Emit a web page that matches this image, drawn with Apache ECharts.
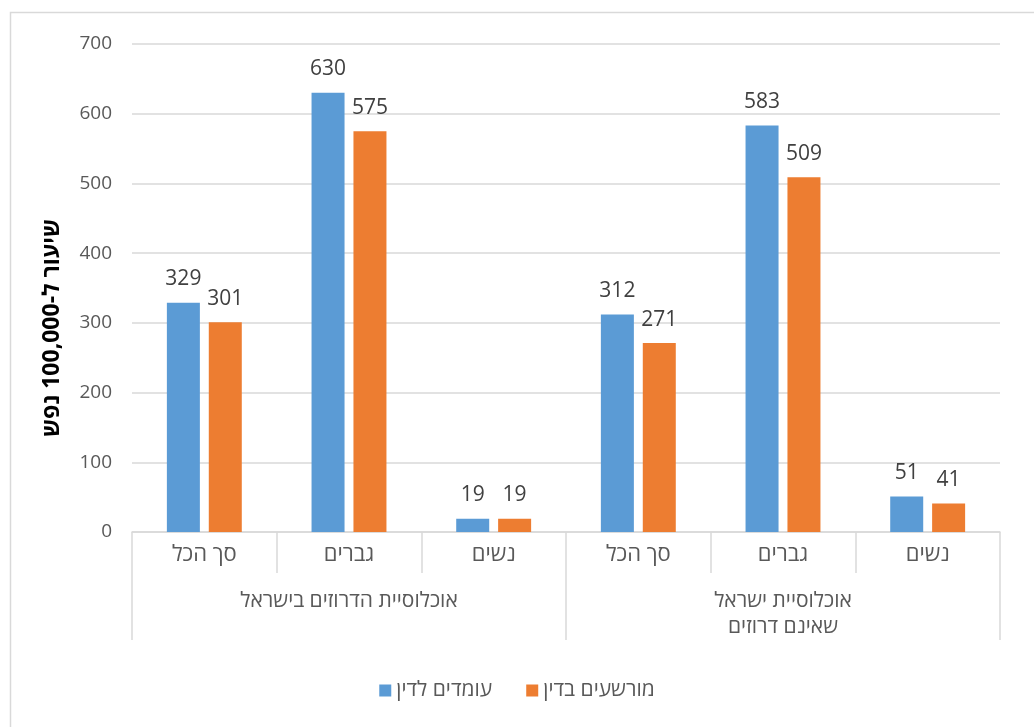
<!DOCTYPE html>
<html>
<head>
<meta charset="utf-8">
<script src="https://cdn.jsdelivr.net/npm/echarts@6/dist/echarts.min.js"></script>
<style>html,body{margin:0;padding:0;background:#fff}#c{width:1034px;height:727px}</style>
</head>
<body>
<div id="c"></div>
<script>
const categories = ['סך הכל', 'גברים', 'נשים', 'סך הכל', 'גברים', 'נשים'];
const groups = ['אוכלוסיית הדרוזים בישראל', 'אוכלוסיית ישראל\nשאינם דרוזים'];
const seriesNames = ['עומדים לדין', 'מורשעים בדין'];
const accused = [329, 630, 19, 312, 583, 51];
const convicted = [301, 575, 19, 271, 509, 41];
const yTicks = [0, 100, 200, 300, 400, 500, 600, 700];
const yTitle = 'שיעור ל-100,000 נפש';

const FONT = '"Open Sans", "DejaVu Sans", sans-serif';
const chart = echarts.init(document.getElementById('c'), null, {renderer: 'canvas'});
chart.setOption({
  animation: false,
  backgroundColor: '#fff',
  textStyle: {fontFamily: FONT},
  color: ['#5B9BD5', '#ED7D31'],
  grid: {left: 132, right: 34, top: 44, bottom: 195, containLabel: false},
  legend: {
    bottom: 21, left: 'center', itemWidth: 12, itemHeight: 12, itemGap: 34,
    icon: 'rect',
    textStyle: {fontSize: 21, color: '#595959', fontFamily: FONT},
    data: seriesNames
  },
  xAxis: [{
    type: 'category', data: categories, position: 'bottom',
    axisLine: {lineStyle: {color: '#d9d9d9', width: 1.5}},
    axisTick: {show: true, length: 41, interval: 0, lineStyle: {color: '#d9d9d9', width: 1.5}},
    axisLabel: {fontSize: 22, color: '#595959', margin: 12, interval: 0, fontFamily: FONT}
  }, {
    type: 'category', data: groups, position: 'bottom', gridIndex: 0,
    axisLine: {show: false},
    axisTick: {show: true, length: 108, interval: 0, lineStyle: {color: '#d9d9d9', width: 1.5}},
    axisLabel: {fontSize: 21, color: '#595959', margin: 56, lineHeight: 26, interval: 0, fontFamily: FONT}
  }],
  yAxis: {
    type: 'value', min: yTicks[0], max: yTicks[yTicks.length - 1], interval: 100,
    axisLine: {show: false}, axisTick: {show: false},
    splitLine: {lineStyle: {color: '#d9d9d9', width: 1.5}},
    axisLabel: {fontSize: 19, color: '#595959', margin: 20, fontFamily: FONT}
  },
  graphic: [{
    type: 'rect', left: 8, top: 10, z: -10, silent: true,
    shape: {width: 1040, height: 740},
    style: {fill: 'none', stroke: '#d9d9d9', lineWidth: 1.5}
  }, {
    type: 'text', x: 52, y: 328, rotation: Math.PI / 2,
    style: {text: yTitle, fontSize: 23, fontWeight: 'bold', fill: '#000',
      align: 'center', verticalAlign: 'middle', fontFamily: FONT}
  }],
  series: [{
    name: seriesNames[0], type: 'bar', data: accused, xAxisIndex: 0,
    barWidth: 33, barGap: '27%',
    label: {show: true, position: 'top', distance: 13, fontSize: 21, color: '#404040', fontFamily: FONT}
  }, {
    name: seriesNames[1], type: 'bar', data: convicted, xAxisIndex: 0,
    barWidth: 33, barGap: '27%',
    label: {show: true, position: 'top', distance: 13, fontSize: 21, color: '#404040', fontFamily: FONT}
  }]
});
</script>
</body>
</html>
